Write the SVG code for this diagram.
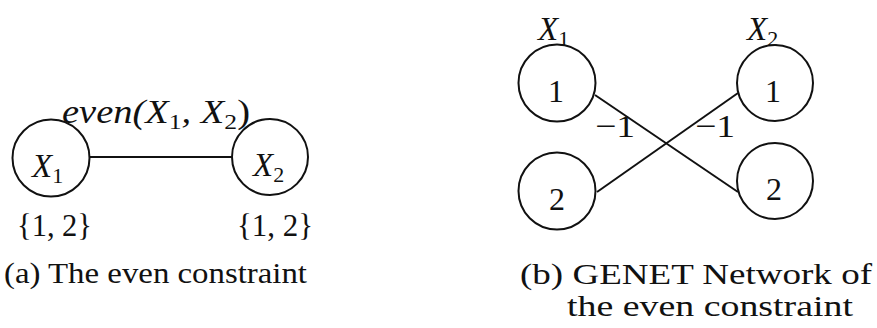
<svg xmlns="http://www.w3.org/2000/svg" width="877" height="328" viewBox="0 0 877 328">
<style>
.n{fill:none;stroke:#111;stroke-width:2}
.c{stroke:#111;stroke-width:2;fill:none}
.t{font-family:"Liberation Serif","DejaVu Serif",serif;font-size:30px;fill:#111}
.d{font-family:"Liberation Serif","DejaVu Serif",serif;font-size:32px;fill:#111}
.m{font-family:"Liberation Serif","DejaVu Serif",serif;font-style:italic;font-size:33px;fill:#111}
.s{font-size:22px;font-style:normal}
</style>
<rect width="877" height="328" fill="#fff"/>
<g id="connectors">
<line class="c" x1="89.5" y1="157" x2="232" y2="157"/>
<line class="c" x1="595" y1="95" x2="738" y2="192"/>
<line class="c" x1="597" y1="192" x2="738" y2="93"/>
</g>
<g id="a-x1">
<circle class="n" cx="51" cy="158" r="38.5"/>
<text class="m" x="32" y="177">X<tspan class="s" dy="6">1</tspan></text>
<text class="d" x="17" y="236" textLength="75" lengthAdjust="spacingAndGlyphs">{1, 2}</text>
</g>
<g id="a-x2">
<circle class="n" cx="270" cy="157" r="38"/>
<text class="m" x="253" y="176">X<tspan class="s" dy="6">2</tspan></text>
<text class="d" x="237" y="236" textLength="76" lengthAdjust="spacingAndGlyphs">{1, 2}</text>
</g>
<g id="a-label">
<text class="m" x="62" y="123" textLength="188" lengthAdjust="spacingAndGlyphs">even(X<tspan class="s" dy="6">1</tspan><tspan dy="-6">, X</tspan><tspan class="s" dy="6">2</tspan><tspan dy="-6" style="font-style:normal">)</tspan></text>
</g>
<g id="b-x1-1">
<circle class="n" cx="557" cy="83" r="38.5"/>
<text class="d" x="556" y="102" text-anchor="middle">1</text>
</g>
<g id="b-x1-2">
<circle class="n" cx="557" cy="191" r="38.5"/>
<text class="d" x="557" y="210" text-anchor="middle">2</text>
</g>
<g id="b-x2-1">
<circle class="n" cx="775" cy="83" r="38"/>
<text class="d" x="773" y="102" text-anchor="middle">1</text>
</g>
<g id="b-x2-2">
<circle class="n" cx="775" cy="181" r="38"/>
<text class="d" x="774" y="200" text-anchor="middle">2</text>
</g>
<g id="b-labels">
<text class="m" x="538" y="40">X<tspan class="s" dy="6">1</tspan></text>
<text class="m" x="747" y="40">X<tspan class="s" dy="6">2</tspan></text>
<text class="d" x="595" y="137" textLength="40" lengthAdjust="spacingAndGlyphs">−1</text>
<text class="d" x="695" y="137" textLength="40" lengthAdjust="spacingAndGlyphs">−1</text>
</g>
<g id="captions">
<text class="t" x="4" y="283" textLength="303" lengthAdjust="spacingAndGlyphs">(a) The even constraint</text>
<text class="t" x="520" y="284" textLength="352" lengthAdjust="spacingAndGlyphs">(b) GENET Network of</text>
<text class="t" x="567" y="316" textLength="286" lengthAdjust="spacingAndGlyphs">the even constraint</text>
</g>
</svg>
